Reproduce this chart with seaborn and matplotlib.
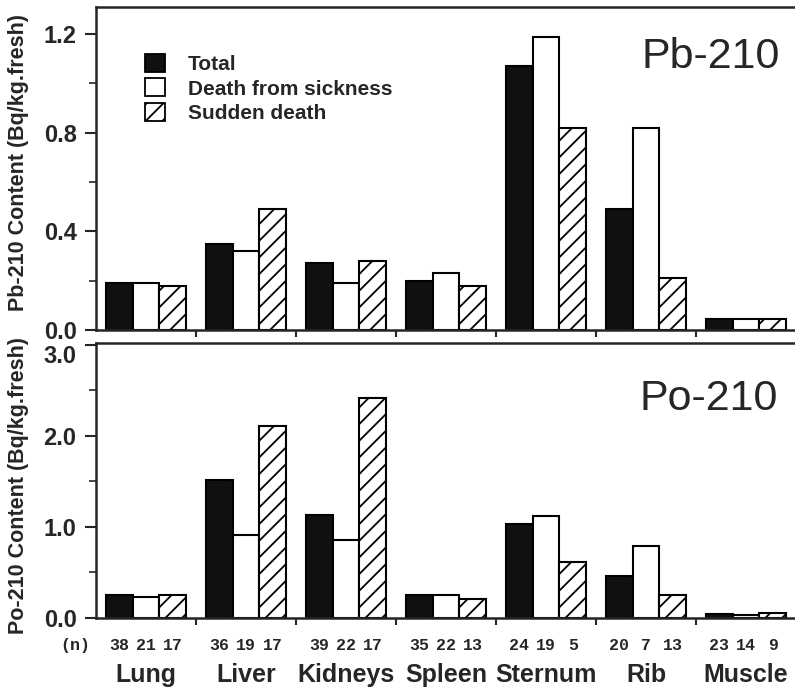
import numpy as np
import pandas as pd
import matplotlib
matplotlib.use("Agg")
import matplotlib.pyplot as plt
import matplotlib.transforms as mtransforms
from matplotlib.patches import Patch
from matplotlib.ticker import MultipleLocator
import seaborn as sns

organs = ["Lung", "Liver", "Kidneys", "Spleen", "Sternum", "Rib", "Muscle"]
groups = ["Total", "Death from sickness", "Sudden death"]

# Pb-210 content (Bq/kg fresh)
pb_total = [0.19, 0.35, 0.27, 0.20, 1.07, 0.49, 0.045]
pb_sickness = [0.19, 0.32, 0.19, 0.23, 1.19, 0.82, 0.045]
pb_sudden = [0.18, 0.49, 0.28, 0.18, 0.82, 0.21, 0.045]

# Po-210 content (Bq/kg fresh)
po_total = [0.25, 1.52, 1.13, 0.25, 1.03, 0.46, 0.04]
po_sickness = [0.23, 0.91, 0.86, 0.25, 1.12, 0.79, 0.035]
po_sudden = [0.25, 2.11, 2.42, 0.21, 0.62, 0.25, 0.06]

# number of samples per organ and group
n_total = [38, 36, 39, 35, 24, 20, 23]
n_sickness = [21, 19, 22, 22, 19, 7, 14]
n_sudden = [17, 17, 17, 13, 5, 13, 9]


def long_table(total, sickness, sudden):
    rows = []
    for g, vals in zip(groups, [total, sickness, sudden]):
        for o, v in zip(organs, vals):
            rows.append({"organ": o, "group": g, "value": v})
    return pd.DataFrame(rows)


df_pb = long_table(pb_total, pb_sickness, pb_sudden)
df_po = long_table(po_total, po_sickness, po_sudden)
counts = [n_total, n_sickness, n_sudden]

sns.set_style("white")
plt.rcParams["font.family"] = ["Liberation Sans", "DejaVu Sans"]
plt.rcParams["hatch.linewidth"] = 1.3
plt.rcParams["axes.linewidth"] = 1.8

W, H = 795, 691
fig = plt.figure(figsize=(W / 100, H / 100), dpi=100)
ax1 = fig.add_axes([96 / W, 1 - 330 / H, 700 / W, 323 / H])
ax2 = fig.add_axes([96 / W, 1 - 618 / H, 700 / W, 275 / H])

styles = [
    dict(facecolor="#111111", hatch=None),
    dict(facecolor="white", hatch=None),
    dict(facecolor="white", hatch="//"),
]

for ax, df in [(ax1, df_pb), (ax2, df_po)]:
    sns.barplot(data=df, x="organ", y="value", hue="group", order=organs,
                hue_order=groups, width=0.8, saturation=1, errorbar=None,
                palette=["#111111", "white", "white"], edgecolor="black",
                linewidth=1.5, legend=False, ax=ax)
    for cont, st in zip(ax.containers, styles):
        for bar in cont:
            bar.set_facecolor(st["facecolor"])
            bar.set_edgecolor("black")
            bar.set_linewidth(1.5)
            if st["hatch"]:
                bar.set_hatch(st["hatch"])
    ax.set_xlim(-0.5, 6.5)
    ax.set_xticks(np.arange(0.5, 6.0, 1.0))
    ax.set_xticklabels([])
    ax.set_xlabel("")
    ax.spines["right"].set_visible(False)
    ax.tick_params(axis="x", direction="out", length=5, width=1.5, bottom=True)
    ax.tick_params(axis="y", which="major", direction="out", length=8,
                   width=1.5, left=True, pad=6)
    ax.tick_params(axis="y", which="minor", direction="out", length=5,
                   width=1.2, left=True)

ax1.set_ylim(0, 1.31)
ax1.yaxis.set_minor_locator(MultipleLocator(0.2))
ax1.set_yticks([0.0, 0.4, 0.8, 1.2])
ax1.set_yticklabels(["0.0", "0.4", "0.8", "1.2"], fontweight="bold", fontsize=17)

ax2.set_ylim(0, 3.02)
ax2.yaxis.set_minor_locator(MultipleLocator(0.5))
ax2.set_yticks([0.0, 1.0, 2.0, 3.0])
ax2.set_yticklabels(["0.0", "1.0", "2.0", "3.0"], fontweight="bold", fontsize=17)
# nudge the top label of the lower panel down, clear of the upper panel's 0.0
top_lab = ax2.get_yticklabels()[-1]
top_lab.set_transform(top_lab.get_transform() +
                      mtransforms.ScaledTranslation(0, -9 / 100, fig.dpi_scale_trans))

ax1.set_ylabel("Pb-210 Content (Bq/kg.fresh)", fontsize=15.5, fontweight="bold")
ax2.set_ylabel("Po-210 Content (Bq/kg.fresh)", fontsize=15.5, fontweight="bold")
ax1.yaxis.set_label_coords(-0.095, 0.52)
ax2.yaxis.set_label_coords(-0.095, 0.48)

# isotope names
ax1.text(780 / W, 1 - 68 / H, "Pb-210", transform=fig.transFigure,
         ha="right", va="baseline", fontsize=31)
ax2.text(778 / W, 1 - 410 / H, "Po-210", transform=fig.transFigure,
         ha="right", va="baseline", fontsize=31)

# legend
handles = [Patch(facecolor=s["facecolor"], edgecolor="black", linewidth=1.3,
                 hatch=s["hatch"]) for s in styles]
ax1.legend(handles, groups, loc="upper left",
           bbox_to_anchor=(145 / W, 1 - 54 / H), bbox_transform=fig.transFigure,
           frameon=False, prop={"weight": "bold", "size": 15},
           handlelength=0.96, handleheight=0.96, handletextpad=1.1,
           labelspacing=0.2, borderpad=0, borderaxespad=0)

# sample counts and organ names under the lower panel
trans = mtransforms.blended_transform_factory(ax2.transData, fig.transFigure)
for cont, ns in zip(ax2.containers, counts):
    for bar, n in zip(cont, ns):
        xc = bar.get_x() + bar.get_width() / 2
        ax2.text(xc, 1 - 650 / H, str(n), transform=trans, ha="center",
                 va="baseline", fontsize=12, fontweight="bold",
                 family="Liberation Mono")
fig.text(75 / W, 1 - 650 / H, "(n)", ha="center", va="baseline", fontsize=12,
         fontweight="bold", family="Liberation Mono")
for i, o in enumerate(organs):
    ax2.text(i, 1 - 682 / H, o, transform=trans, ha="center", va="baseline",
             fontsize=18, fontweight="bold")

fig.savefig("out.png", dpi=100)
